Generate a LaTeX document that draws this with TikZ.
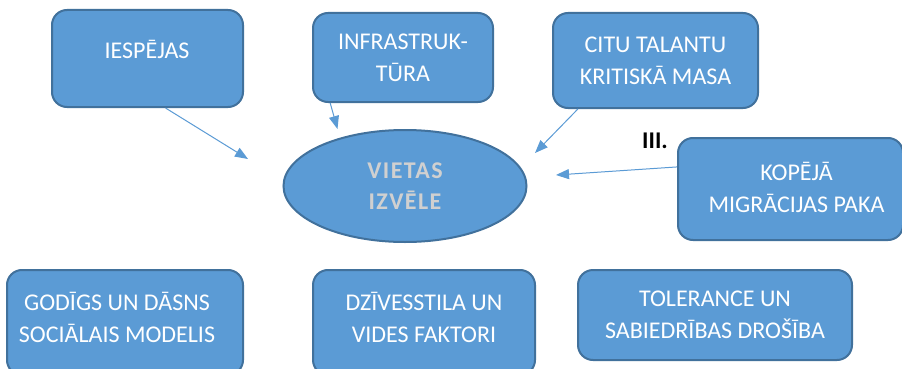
\documentclass[tikz,border=0pt]{standalone}
\usepackage{fontspec}
\setmainfont{Carlito}
\newfontfamily\spacedfont[LetterSpace=6]{Carlito}
\usetikzlibrary{shapes.geometric,arrows.meta}
\definecolor{boxblue}{HTML}{5B9BD5}
\definecolor{boxedge}{HTML}{41719C}
\definecolor{ellipsetext}{RGB}{208,208,208}
\tikzset{
  box/.style={draw=boxedge, fill=boxblue, line width=2pt, rounded corners=15pt, inner sep=0pt},
  boxtext/.style={text=white, align=center, font=\fontsize{24}{32}\selectfont, inner sep=0pt},
  conn/.style={draw=boxblue, line width=1pt, -{Triangle[length=13pt,width=10pt]}}
}
\begin{document}
\begin{tikzpicture}[x=1pt,y=-1pt]
\useasboundingbox (0,0) rectangle (902,369);
\fill[white] (0,0) rectangle (902,369);
\begin{scope}
\clip (0,0) rectangle (902,369);
% top boxes
\node[box, minimum width=191pt, minimum height=97pt] (iesp) at (147.5,58.5) {};
\node[boxtext] (iesptext) at (147,49.5) {IESPĒJAS};
\node[box, boxtext, minimum width=180pt, minimum height=89pt] (infra) at (403,57.5) {INFRASTRUK-\\TŪRA};
\node[box, boxtext, minimum width=205pt, minimum height=95pt] (citu) at (655.5,60.5) {CITU TALANTU\\KRITISKĀ MASA};
\node[box, minimum width=225pt, minimum height=102pt] (kop) at (790.5,189) {};
\node[boxtext] (koptext) at (796.5,187) {KOPĒJĀ\\MIGRĀCIJAS PAKA};
% central ellipse
\node[ellipse, draw=boxedge, fill=boxblue, line width=2pt, minimum width=243pt, minimum height=112pt, inner sep=0pt,
      text=ellipsetext, align=center, font=\fontsize{24}{30.5}\selectfont\spacedfont\bfseries] (viet) at (405,186) {VIETAS\\IZVĒLE};
% label
\node[font=\fontsize{24}{28}\selectfont\bfseries, inner sep=0pt] (iii) at (655,141) {III.};
% bottom boxes
\node[box, minimum width=236pt, minimum height=105pt] (god) at (125,322.5) {};
\node[boxtext] (godtext) at (117,317) {GODĪGS UN DĀSNS\\SOCIĀLAIS MODELIS};
\node[box, minimum width=222pt, minimum height=105pt] (dziv) at (424,322.5) {};
\node[boxtext] (dzivtext) at (424,317.5) {DZĪVESSTILA UN\\VIDES FAKTORI};
\node[box, boxtext, minimum width=274pt, minimum height=90pt] (tol) at (715,315) {TOLERANCE UN\\SABIEDRĪBAS DROŠĪBA};
% arrow tips
\coordinate (t1) at (248,159);
\coordinate (t2) at (337.5,129);
\coordinate (t3) at (535,153);
\coordinate (t4) at (556,175);
\draw[conn] (iesp.-70) -- (t1);
\draw[conn] (infra.-148) -- (t2);
\draw[conn] (citu.-148.8) -- (t3);
\draw[conn] (kop.169.4) -- (t4);
\end{scope}
\end{tikzpicture}
\end{document}
